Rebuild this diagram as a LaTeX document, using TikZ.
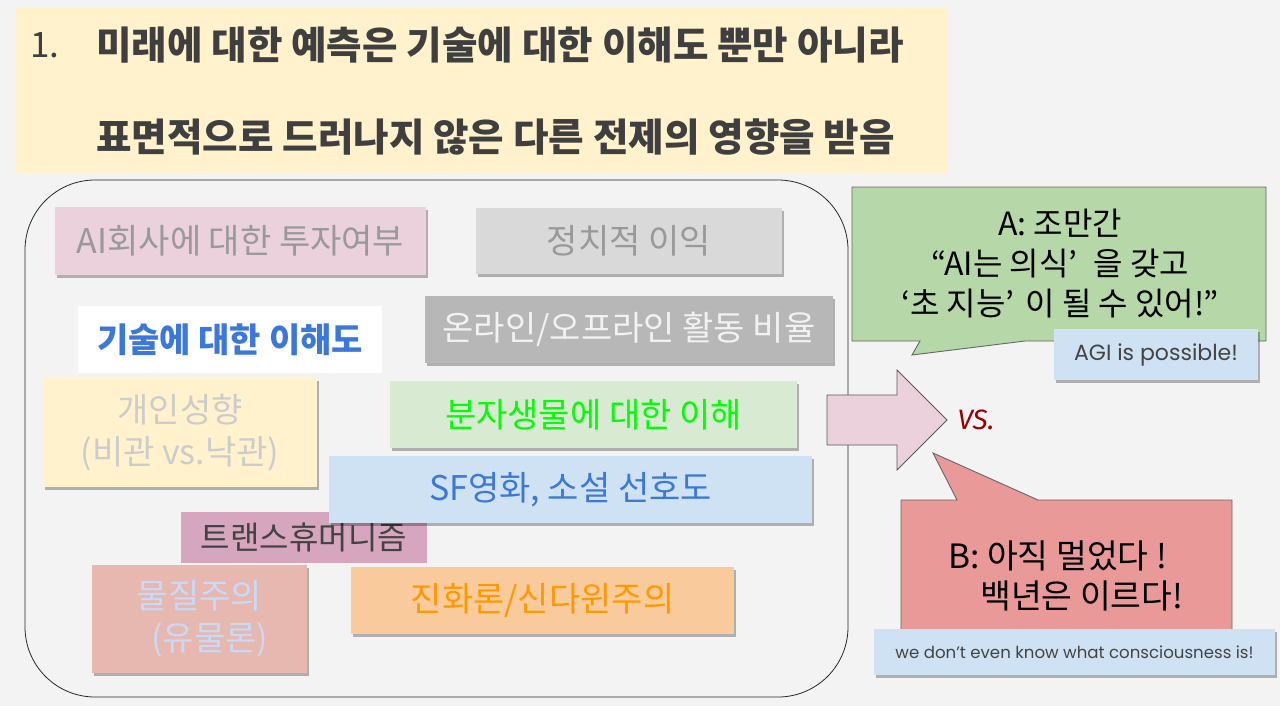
\documentclass[tikz,border=0pt]{standalone}
\usepackage{fontspec}
\setmainfont{Noto Sans CJK KR}
\newfontfamily\roundfont{Poppins}
\newfontfamily\handfont{Fira Sans}
\usetikzlibrary{shadows}
\definecolor{bgcol}{HTML}{F3F3F3}
\definecolor{titlecol}{HTML}{FFF2CC}
\definecolor{titletext}{HTML}{3F3F3F}
\definecolor{investcol}{HTML}{EAD1DC}
\definecolor{politcol}{HTML}{D9D9D9}
\definecolor{onlinecol}{HTML}{B7B7B7}
\definecolor{persocol}{HTML}{FFF2CC}
\definecolor{biocol}{HTML}{D9EAD3}
\definecolor{sfcol}{HTML}{CFE2F3}
\definecolor{transcol}{HTML}{D5A6BD}
\definecolor{matercol}{HTML}{E6B8AF}
\definecolor{evocol}{HTML}{F9CB9C}
\definecolor{greycol}{HTML}{999999}
\definecolor{techtext}{HTML}{3C78D8}
\definecolor{matertext}{HTML}{C9DAF8}
\definecolor{evotext}{HTML}{FF9900}
\definecolor{agreecol}{HTML}{B6D7A8}
\definecolor{disagreecol}{HTML}{EA9999}
\definecolor{notecol}{HTML}{CFE2F3}
\definecolor{notetext}{HTML}{434343}
\definecolor{vscol}{HTML}{990000}
\tikzset{
  card/.style={rectangle,inner sep=0pt,align=center,font=\fontsize{34}{42}\selectfont},
  shadowed/.style={drop shadow={shadow xshift=1.5pt,shadow yshift=-2.5pt,opacity=0.28,fill=black}},
  titleline/.style={anchor=west,inner sep=0pt,text=titletext,font=\bfseries\fontsize{38.6}{42}\selectfont},
  bubble/.style={draw=black!60,line width=0.9pt},
  bubbletext/.style={inner sep=0pt,text=black,font=\fontsize{32}{40}\selectfont},
  note/.style={card,shadowed,fill=notecol,text=notetext}
}
\begin{document}
\begin{tikzpicture}[x=1pt,y=-1pt]
\useasboundingbox (0,0) rectangle (1280,706);
\fill[bgcol] (0,0) rectangle (1280,706);
% ---- title ----
\fill[titlecol] (16,8) rectangle (948,174);
\node[titleline,font=\fontsize{35}{40}\selectfont] (num) at (30,45) {1.};
\node[titleline] (line1) at (96,45) {미래에 대한 예측은 기술에 대한 이해도 뿐만 아니라};
\node[titleline] (line2) at (96,137) {표면적으로 드러나지 않은 다른 전제의 영향을 받음};
% ---- left: hidden premises ----
\draw[black!85,line width=0.8pt,rounded corners=70pt] (25,180) rectangle (848,697);
\node[card,shadowed,fill=investcol,text=greycol,minimum width=371pt,minimum height=68pt] (invest) at (240.5,241) {AI회사에 대한 투자여부};
\node[card,shadowed,fill=politcol,text=greycol,minimum width=306pt,minimum height=66pt] (polit) at (629,241) {정치적 이익};
\node[card,fill=white,text=techtext,font=\bfseries\fontsize{34}{42}\selectfont,minimum width=304pt,minimum height=67pt] (tech) at (230,339.5) {기술에 대한 이해도};
\node[card,shadowed,fill=onlinecol,text=black!5,minimum width=408pt,minimum height=67pt] (online) at (629,329.5) {온라인/오프라인 활동 비율};
\node[card,shadowed,fill=persocol,text=black!20,minimum width=274pt,minimum height=109pt] (perso) at (180,432.5) {개인성향\\(비관 vs.낙관)};
\node[card,shadowed,fill=biocol,text=green,minimum width=407pt,minimum height=67pt] (bio) at (593.5,414.5) {분자생물에 대한 이해};
\node[card,fill=transcol,text=notetext,font=\fontsize{32}{40}\selectfont,minimum width=246pt,minimum height=51pt] (trans) at (304,537.5) {트랜스휴머니즘};
\node[card,shadowed,fill=sfcol,text=techtext,minimum width=483pt,minimum height=67pt] (sf) at (570.5,489.5) {SF영화, 소설 선호도};
\node[card,shadowed,fill=matercol,text=matertext,minimum width=215pt,minimum height=108pt] (mater) at (199.5,619) {물질주의\\\hspace*{0.6em}(유물론)};
\node[card,shadowed,fill=evocol,text=evotext,minimum width=383pt,minimum height=67pt] (evo) at (542.5,600.5) {진화론/신다윈주의};
% ---- right: two forecasts ----
\draw[fill=investcol,draw=black!65,line width=0.8pt] (827,395) -- (897,395) -- (897,370) -- (947,420) -- (897,470) -- (897,445) -- (827,445) -- cycle;
\node[text=vscol,font=\handfont\itshape\fontsize{28}{30}\selectfont] (vs) at (976,420) {VS.};
\draw[bubble,fill=agreecol] (852,187) -- (1266,187) -- (1266,341) -- (1025,341) -- (912,355) -- (920,341) -- (852,341) -- cycle;
\node[bubbletext,align=center] (sayA) at (1060,264) {A: 조만간\\“AI는 의식’\hspace{0.5em}을 갖고\\‘초 지능’\hspace{0.35em}이 될 수 있어!”};
\node[note,font=\roundfont\fontsize{22}{24}\selectfont,minimum width=204pt,minimum height=51pt] (agi) at (1156,354.5) {AGI is possible!};
\draw[bubble,fill=disagreecol] (901,500) -- (957,500) -- (933,453) -- (1038,500) -- (1232,500) -- (1232,640) -- (901,640) -- cycle;
\node[bubbletext,anchor=base west,font=\fontsize{33.5}{40}\selectfont] (sayB1) at (948,568) {B: 아직 멀었다 !};
\node[bubbletext,anchor=base west,font=\fontsize{33.5}{40}\selectfont] (sayB2) at (980,608) {백년은 이르다!};
\node[note,font=\roundfont\fontsize{16.6}{18}\selectfont,minimum width=401pt,minimum height=46pt] (unknown) at (1074.5,652) {we don’t even know what consciousness is!};
\end{tikzpicture}
\end{document}
